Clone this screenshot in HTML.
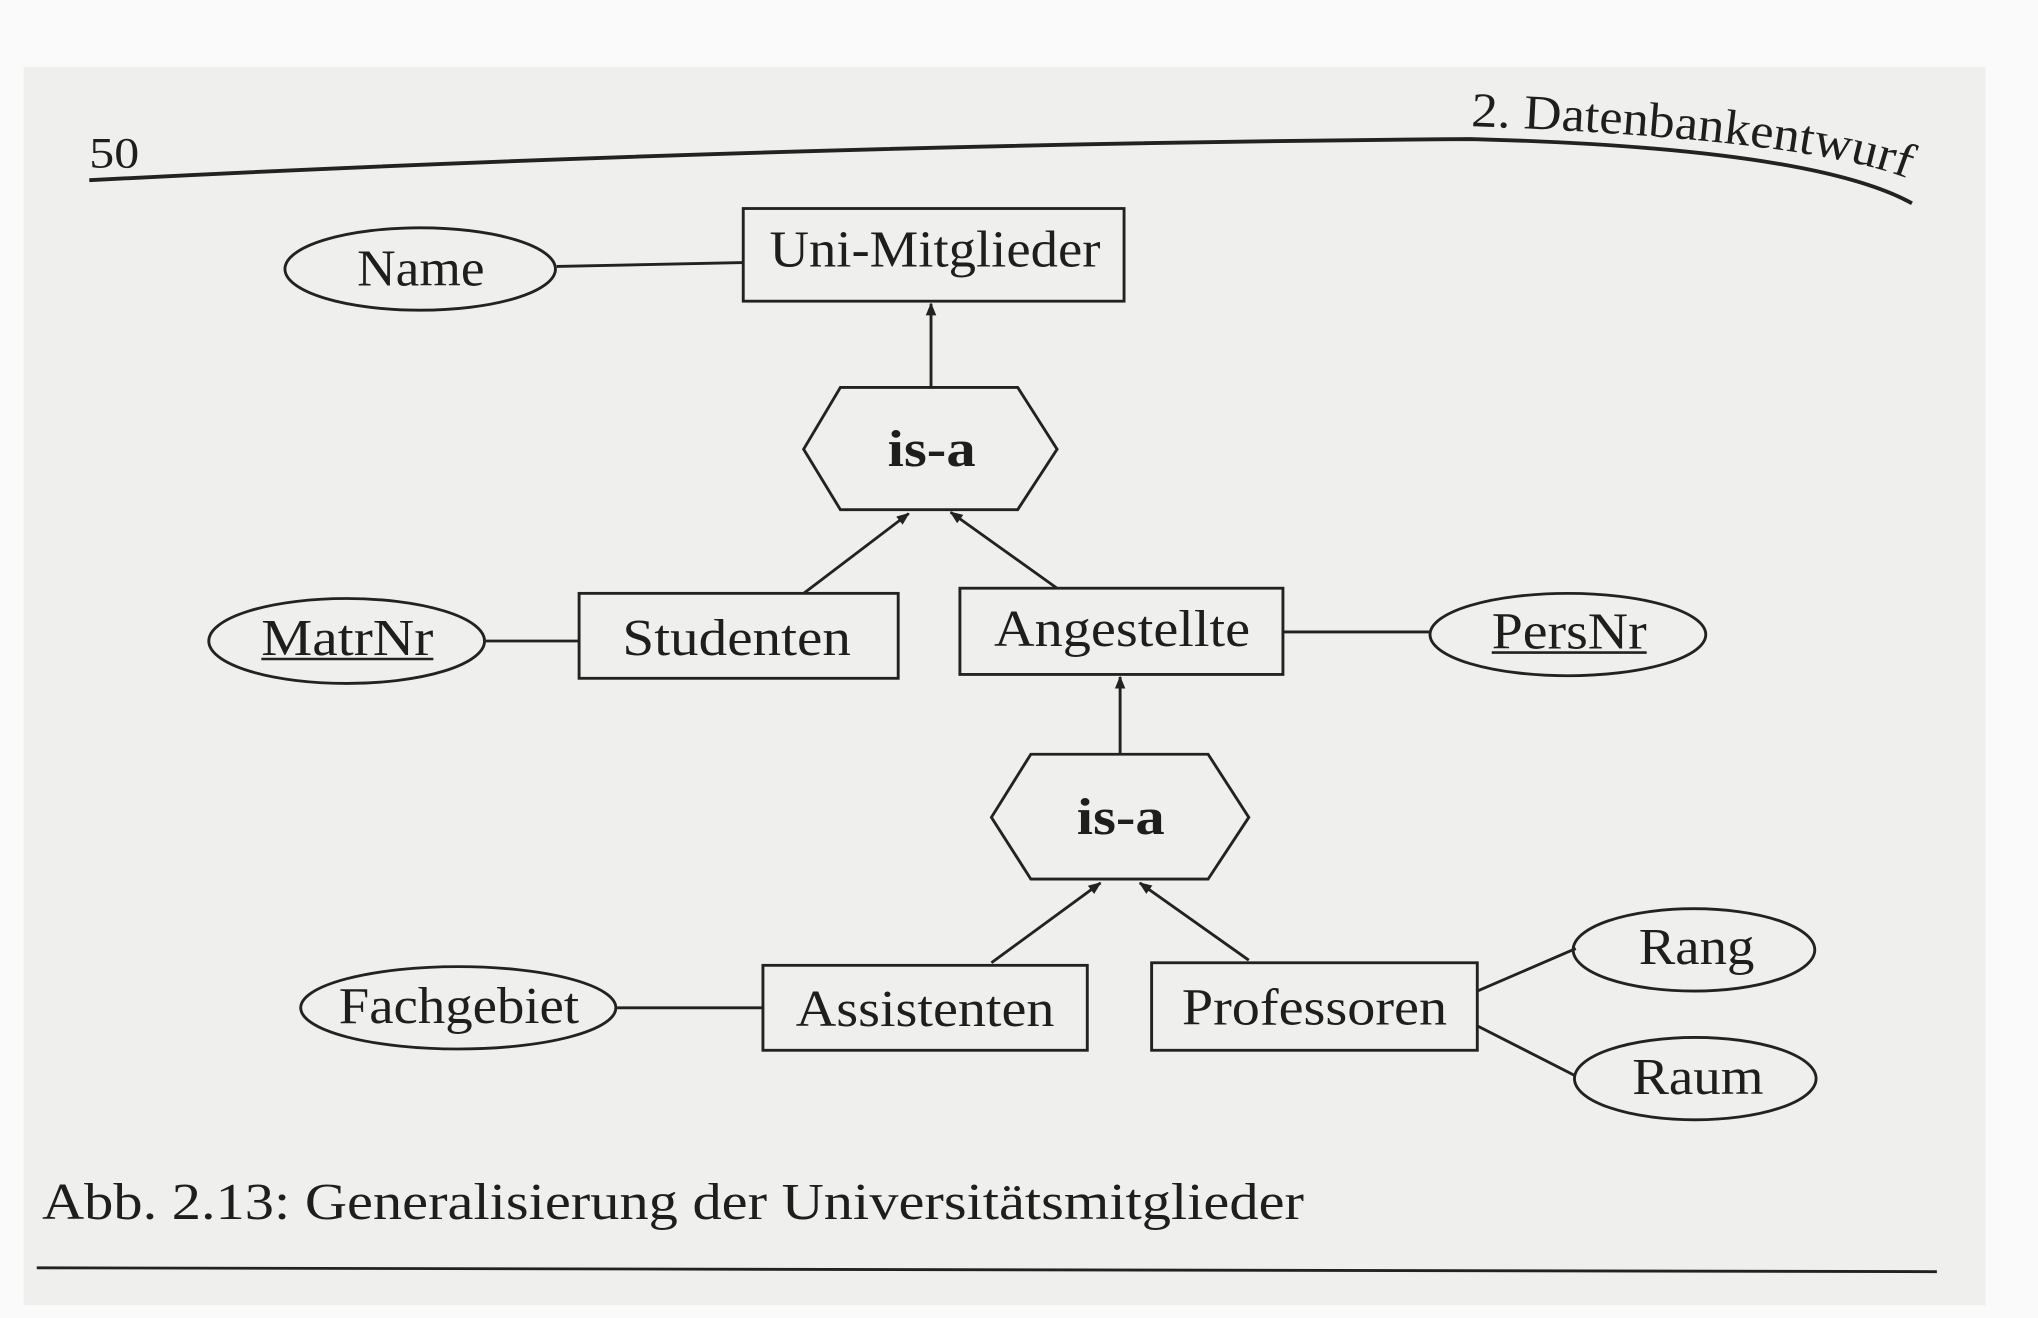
<!DOCTYPE html>
<html><head><meta charset="utf-8"><style>
html,body{margin:0;padding:0;background:#fff;}
svg{display:block;}
text{font-family:"Liberation Serif",serif;fill:#1e1e1e;}
</style></head><body>
<svg width="2038" height="1318" viewBox="0 0 1552 1024" preserveAspectRatio="none" xmlns="http://www.w3.org/2000/svg">
<defs><marker id="a" markerWidth="10" markerHeight="10" refX="9" refY="5" orient="auto" markerUnits="userSpaceOnUse"><path d="M0,1 L10,5 L0,9 Z" fill="#222"/></marker>
<path id="hp" d="M1120,98 Q1380,108 1456,140"/></defs>
<rect x="0" y="0" width="1552" height="1024" fill="#fafafa"/>
<rect x="18" y="52" width="1494" height="962" fill="#efefed"/>
<g stroke="#222" stroke-width="2.2" fill="none">
<path d="M68,140 Q600,112 1120,108 Q1380,115 1456,158" stroke-width="3"/>
<line x1="28" y1="985" x2="1475" y2="988"/>
<rect x="566" y="162" width="290" height="72"/>
<ellipse cx="320" cy="209" rx="103" ry="32"/>
<line x1="424" y1="207" x2="566" y2="204"/>
<polygon points="612,349 640,301 775,301 805,349 775,396 640,396"/>
<line x1="709" y1="300" x2="709" y2="236" marker-end="url(#a)"/>
<rect x="441" y="461" width="243" height="66"/>
<rect x="731" y="457" width="246" height="67"/>
<ellipse cx="264" cy="498" rx="105" ry="33"/>
<ellipse cx="1194" cy="493" rx="105" ry="32"/>
<line x1="612" y1="461" x2="692" y2="399" marker-end="url(#a)"/>
<line x1="805" y1="457" x2="724" y2="398" marker-end="url(#a)"/>
<line x1="370" y1="498" x2="441" y2="498"/>
<line x1="977" y1="491" x2="1089" y2="491"/>
<line x1="853" y1="586" x2="853" y2="526" marker-end="url(#a)"/>
<polygon points="755,635 785,586 920,586 951,635 920,683 785,683"/>
<rect x="581" y="750" width="247" height="66"/>
<rect x="877" y="748" width="248" height="68"/>
<ellipse cx="349" cy="783" rx="120" ry="32"/>
<ellipse cx="1290" cy="738" rx="92" ry="32"/>
<ellipse cx="1291" cy="838" rx="92" ry="32"/>
<line x1="755" y1="748" x2="838" y2="686" marker-end="url(#a)"/>
<line x1="951" y1="746" x2="868" y2="686" marker-end="url(#a)"/>
<line x1="470" y1="783" x2="581" y2="783"/>
<line x1="1125" y1="770" x2="1200" y2="737"/>
<line x1="1125" y1="797" x2="1200" y2="836"/>
<line x1="199" y1="512" x2="330" y2="512" stroke-width="2"/>
<line x1="1136" y1="507" x2="1254" y2="507" stroke-width="2"/>
</g>
<text x="68" y="130" font-size="34" textLength="38" lengthAdjust="spacingAndGlyphs">50</text>
<text font-size="38"><textPath href="#hp" textLength="336" lengthAdjust="spacingAndGlyphs">2.  Datenbankentwurf</textPath></text>
<g font-size="40">
<text x="586" y="207" textLength="252" lengthAdjust="spacingAndGlyphs">Uni-Mitglieder</text>
<text x="272" y="222" textLength="97" lengthAdjust="spacingAndGlyphs">Name</text>
<text x="676" y="362" font-weight="bold" textLength="67" lengthAdjust="spacingAndGlyphs">is-a</text>
<text x="474" y="509" textLength="174" lengthAdjust="spacingAndGlyphs">Studenten</text>
<text x="757" y="502" textLength="195" lengthAdjust="spacingAndGlyphs">Angestellte</text>
<text x="199" y="509" textLength="131" lengthAdjust="spacingAndGlyphs">MatrNr</text>
<text x="1136" y="504" textLength="118" lengthAdjust="spacingAndGlyphs">PersNr</text>
<text x="820" y="648" font-weight="bold" textLength="67" lengthAdjust="spacingAndGlyphs">is-a</text>
<text x="606" y="797" textLength="197" lengthAdjust="spacingAndGlyphs">Assistenten</text>
<text x="900" y="796" textLength="202" lengthAdjust="spacingAndGlyphs">Professoren</text>
<text x="258" y="795" textLength="183" lengthAdjust="spacingAndGlyphs">Fachgebiet</text>
<text x="1248" y="749" textLength="88" lengthAdjust="spacingAndGlyphs">Rang</text>
<text x="1243" y="850" textLength="100" lengthAdjust="spacingAndGlyphs">Raum</text>
</g>
<text x="32" y="947" font-size="40" textLength="961" lengthAdjust="spacingAndGlyphs">Abb. 2.13:  Generalisierung der Universitätsmitglieder</text>
</svg>
</body></html>
